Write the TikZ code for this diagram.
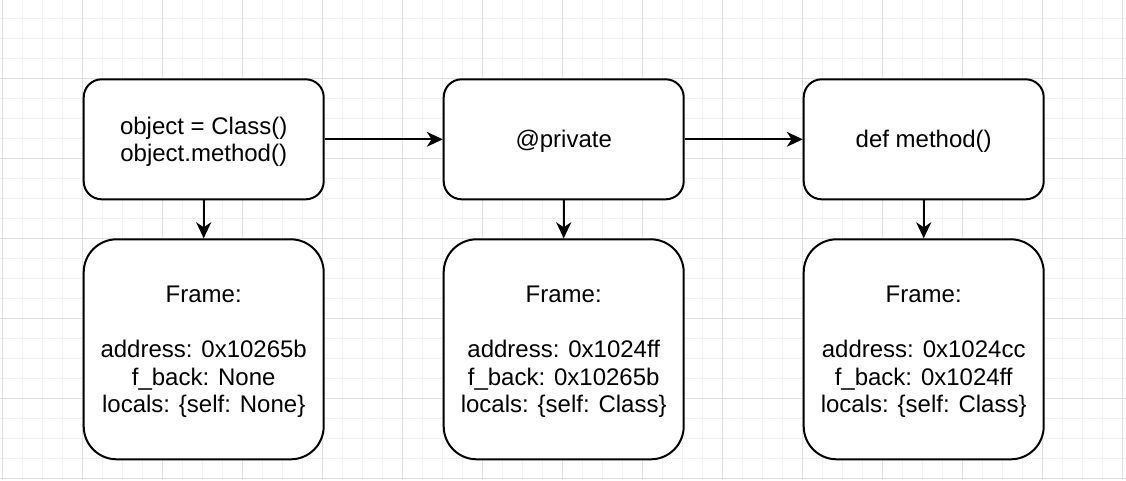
\documentclass[tikz,border=0pt]{standalone}
\usepackage{fontspec}
\setmainfont{Liberation Sans}
\usetikzlibrary{arrows.meta}
\definecolor{gridminor}{HTML}{F1F1F1}
\definecolor{gridmajor}{HTML}{E0E0E0}
\newcommand\lnstrut{\rule[-5.1pt]{0pt}{27.5pt}}
\begin{document}
\begin{tikzpicture}[x=1pt,y=-1pt,
  basebox/.style={draw=black, line width=2pt, fill=white, anchor=north west,
    inner sep=0pt, align=center, minimum width=240pt,
    font=\fontsize{24}{27.5}\selectfont},
  topbox/.style={basebox, minimum height=120pt, rounded corners=18pt},
  framebox/.style={basebox, minimum height=220pt, rounded corners=33pt},
  conn/.style={draw=black, line width=2pt, -{Stealth[length=16pt,width=15pt,inset=5pt]}},
  minorline/.style={draw=gridminor, line width=1pt},
  majorline/.style={draw=gridmajor, line width=1pt}]
\fill[white] (0,0) rectangle (1126,480);
\useasboundingbox (0,0) rectangle (1126,480);
\foreach \x in {2.7,22.7,...,1126} \draw[minorline] (\x,0) -- (\x,480);
\foreach \y in {18.3,38.3,...,480} \draw[minorline] (0,\y) -- (1126,\y);
\foreach \x in {2.7,82.7,...,1126} \draw[majorline] (\x,0) -- (\x,480);
\foreach \y in {78.3,158.3,...,480} \draw[majorline] (0,\y) -- (1126,\y);

\node[topbox] (c1) at (82.7,78.3) {\lnstrut object = Class()\\\lnstrut object.method()};
\node[topbox] (c2) at (442.7,78.3) {\lnstrut @private};
\node[topbox] (c3) at (802.7,78.3) {\lnstrut def method()};

\node[framebox] (f1) at (82.7,238.3) {\lnstrut Frame:\\\lnstrut\\\lnstrut address: 0x10265b\\\lnstrut f\_back: None\\\lnstrut locals: \{self: None\}};
\node[framebox] (f2) at (442.7,238.3) {\lnstrut Frame:\\\lnstrut\\\lnstrut address: 0x1024ff\\\lnstrut f\_back: 0x10265b\\\lnstrut locals: \{self: Class\}};
\node[framebox] (f3) at (802.7,238.3) {\lnstrut Frame:\\\lnstrut\\\lnstrut address: 0x1024cc\\\lnstrut f\_back: 0x1024ff\\\lnstrut locals: \{self: Class\}};

\draw[conn] (c1) -- (c2);
\draw[conn] (c2) -- (c3);
\draw[conn] (c1) -- (f1);
\draw[conn] (c2) -- (f2);
\draw[conn] (c3) -- (f3);
\end{tikzpicture}
\end{document}
